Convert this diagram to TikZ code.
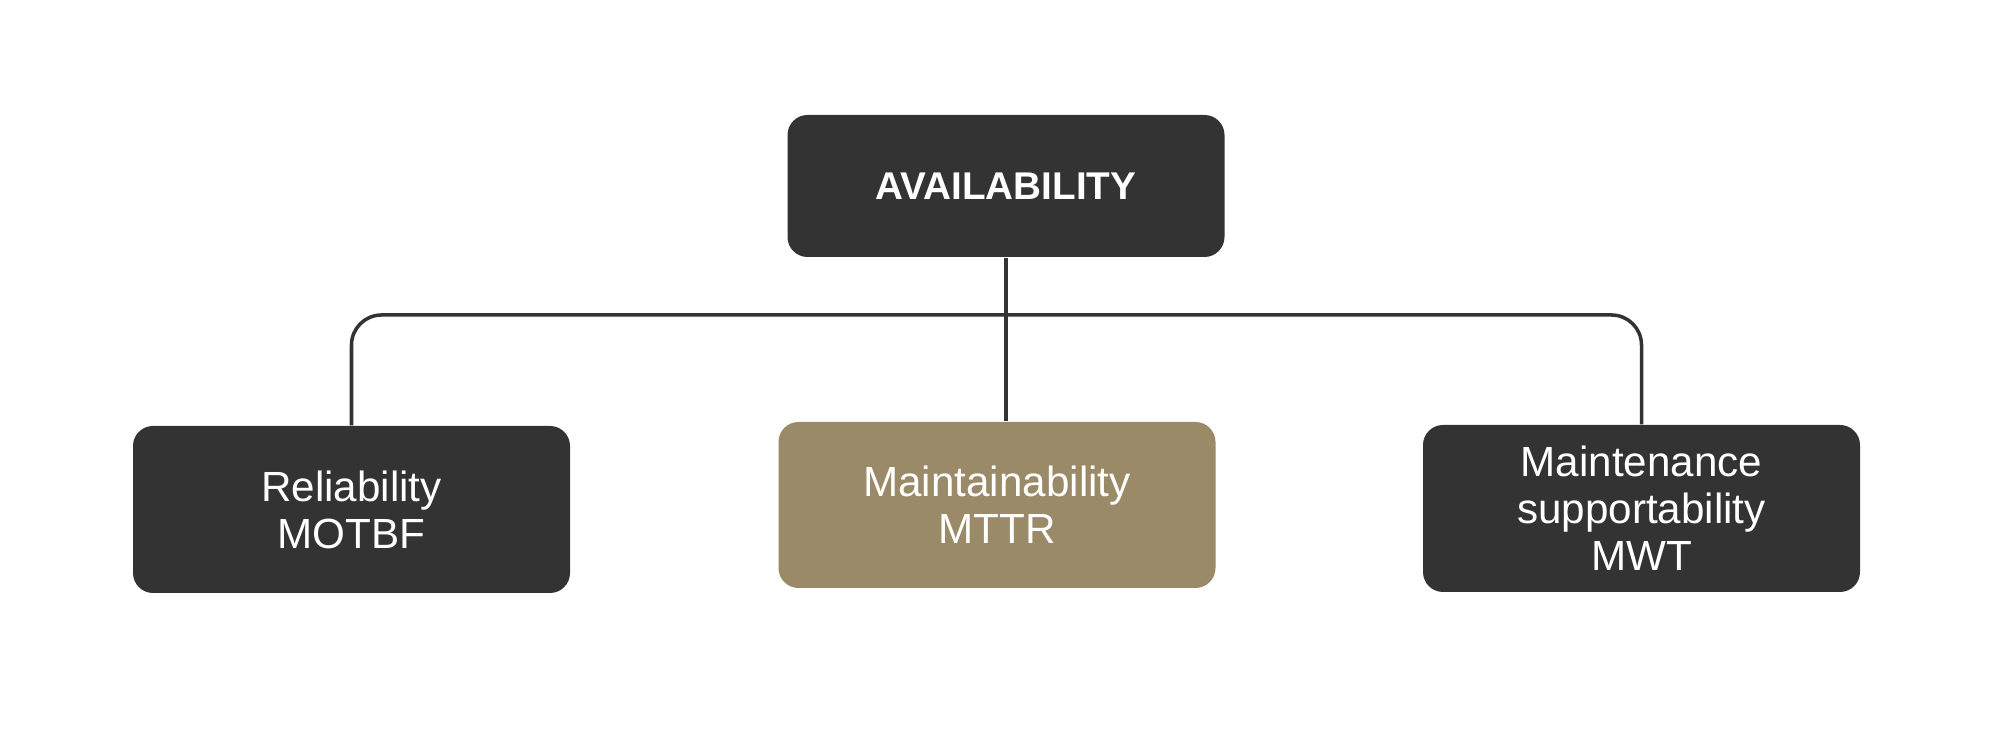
\documentclass[tikz,border=0pt]{standalone}
\usepackage{fontspec}
\setmainfont{Liberation Sans}
\usetikzlibrary{positioning}
\definecolor{boxdark}{HTML}{333333}
\definecolor{boxgold}{HTML}{9A8A68}
\tikzset{
  block/.style={rounded corners=2mm, fill=boxdark, text=white, align=center,
    minimum width=4.37cm, minimum height=1.67cm, inner sep=0pt,
    font=\fontsize{12}{13.4}\selectfont},
  link/.style={draw=boxdark, line width=1pt}
}
\begin{document}
\begin{tikzpicture}
\useasboundingbox [fill=white] (0,0) rectangle (20,7.34);
\node [block, minimum height=1.42cm, font=\bfseries\fontsize{11}{13}\selectfont] (avail) at (10.06,5.48) {\raisebox{-0.7mm}{AVAILABILITY}};
\node [block] (rel) at (3.515,2.245) {Reliability\\MOTBF};
\node [block, fill=boxgold, minimum height=1.66cm] (maint) at (9.97,2.29) {Maintainability\\MTTR};
\node [block] (supp) at (16.415,2.255) {Maintenance\\supportability\\MWT};
\coordinate (bus) at (avail.south |- 0,4.19);
\draw [link] (avail.south) -- (avail.south |- maint.north);
\draw [link, rounded corners=3mm] (rel.north) |- (bus) -| (supp.north);
\end{tikzpicture}
\end{document}
